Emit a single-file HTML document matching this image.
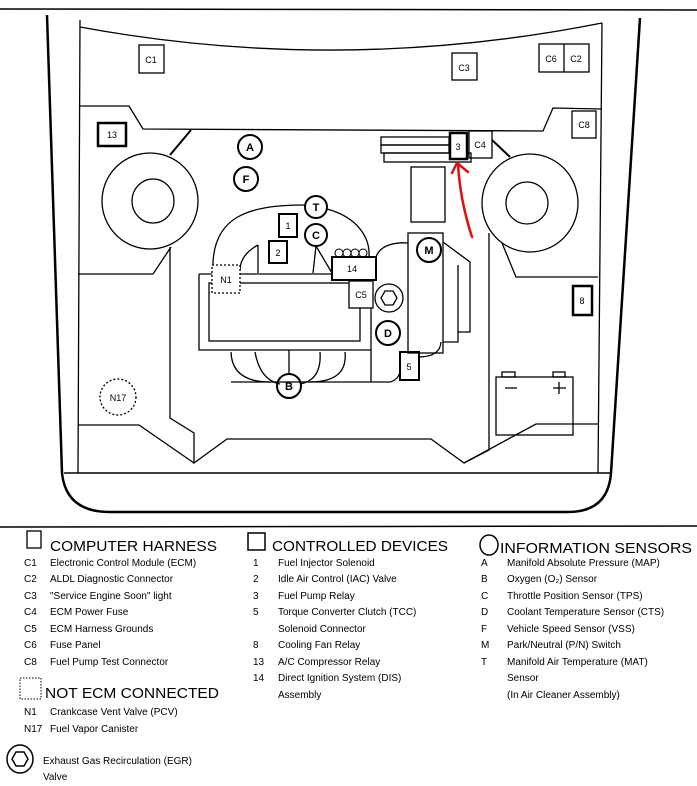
<!DOCTYPE html>
<html><head><meta charset="utf-8"><style>
html,body{margin:0;padding:0;background:#fff;}
svg{display:block;}
text{font-family:"Liberation Sans",sans-serif;fill:#000;}
.l{font-size:10px;}
.h{font-size:15px;}
.s{font-size:9px;}
.c{font-size:11px;font-weight:bold;text-anchor:middle;}
</style></head><body>
<svg width="697" height="786" viewBox="0 0 697 786" xmlns="http://www.w3.org/2000/svg">
<g fill="none" stroke="#000" stroke-width="1.3">
<line x1="0" y1="9" x2="697" y2="10" stroke-width="1.5"/>
<!-- outer body -->
<path d="M47,15 L62,473 Q66,512 110,512 L568,512 Q608,512 611,473 L640,18" stroke-width="2.5"/>
<line x1="64" y1="473" x2="611" y2="473" stroke-width="1.5"/>
<!-- inner panel -->
<path d="M80,20 L78,473 M602,23 L598,473"/>
<path d="M80,27 Q340,75 602,23"/>
<path d="M80,106 L129,106 L143,129 L543,131 L553,108 L602,109"/>
<!-- wheels -->
<ellipse cx="150" cy="201" rx="48" ry="48"/>
<ellipse cx="153" cy="201" rx="21" ry="22"/>
<ellipse cx="530" cy="203" rx="48" ry="49"/>
<ellipse cx="527" cy="203" rx="21" ry="21"/>
<line x1="191" y1="130" x2="170" y2="155" stroke-width="2"/>
<line x1="492" y1="140" x2="510" y2="157" stroke-width="2"/>
<!-- lower structure -->
<path d="M171,247 L153,274 L78,274"/>
<path d="M170,247 L170,418 L194,433 L194,463 L227,439 L431,439 L464,463 L489,450 L489,233"/>
<path d="M78,425 L139,425 L194,463"/>
<path d="M502,243 L516,277 L598,277"/>
<path d="M464,463 L536,424 L598,424"/>
<!-- top boxes -->
<rect x="139" y="45" width="25" height="28"/>
<rect x="452" y="53" width="25" height="27"/>
<rect x="539" y="44" width="50" height="28"/>
<line x1="564" y1="44" x2="564" y2="72"/>
<rect x="572" y="111" width="24" height="27"/>
<rect x="98" y="123" width="28" height="23" stroke-width="2.5"/>
<!-- component stack -->
<rect x="381" y="137" width="68" height="8"/>
<rect x="381" y="145" width="68" height="8"/>
<rect x="384" y="153" width="87" height="9"/>
<rect x="469" y="131" width="23" height="27"/>
<rect x="450" y="133" width="17" height="26" stroke-width="2.5" fill="#fff"/>
<rect x="411" y="167" width="34" height="55"/>
<!-- circles sensors -->
<g stroke-width="2" fill="#fff">
<circle cx="250" cy="147" r="12"/>
<circle cx="246" cy="179" r="12"/>
<circle cx="316" cy="207" r="11"/>
<circle cx="316" cy="235" r="11"/>
<circle cx="429" cy="250" r="12"/>
<circle cx="388" cy="333" r="12"/>
<circle cx="289" cy="386" r="12"/>
</g>
<!-- dome -->
<path d="M213,273 C210,215 250,205 305,205 M327,209 C360,218 370,240 369,256"/>
<path d="M258,245 Q240,255 240,270 M258,245 L258,273"/>
<rect x="279" y="214" width="18" height="23" stroke-width="2"/>
<rect x="269" y="241" width="18" height="22" stroke-width="2"/>
<path d="M316,246 L313,273 M316,246 L332,273"/>
<!-- ECM rect -->
<path d="M199,274 L199,350 L371,350 L371,308 M199,274 L333,274"/>
<rect x="209" y="283" width="151" height="58"/>
<rect x="212" y="265" width="28" height="28" stroke-dasharray="2,2" fill="#fff"/>
<g stroke-width="1">
<circle cx="339" cy="253" r="4"/><circle cx="347" cy="253" r="4"/><circle cx="355" cy="253" r="4"/><circle cx="363" cy="253" r="4"/>
</g>
<rect x="332" y="257" width="44" height="23" stroke-width="2" fill="#fff"/>
<rect x="349" y="281" width="24" height="27" fill="#fff"/>
<circle cx="389" cy="298" r="14"/>
<polygon points="397,298 393,305 385,305 381,298 385,291 393,291"/>
<!-- M box -->
<rect x="408" y="233" width="35" height="120"/>
<path d="M376,257 C380,245 395,242 408,243"/>
<path d="M443,242 L470,262 L470,332 L458,332 L458,265 M458,332 L458,342 L443,342"/>
<path d="M441,342 Q440,357 418,357"/>
<rect x="400" y="352" width="19" height="28" stroke-width="2"/>
<path d="M371,350 L371,382 L231,382 M371,382 L390,382 Q398,380 400,372"/>
<path d="M231,352 Q232,382 270,382 M255,352 Q260,380 280,384 M289,350 L289,374 M320,352 Q322,380 300,384 M345,352 Q348,382 310,382"/>
<rect x="573" y="286" width="19" height="29" stroke-width="2.5"/>
<circle cx="118" cy="397" r="18" stroke-dasharray="2,2"/>
<!-- battery -->
<rect x="496" y="377" width="77" height="58"/>
<rect x="502" y="372" width="13" height="5"/>
<rect x="553" y="372" width="12" height="5"/>
<line x1="505" y1="388" x2="517" y2="388"/>
<path d="M553,388 L566,388 M559,382 L559,394"/>
<line x1="0" y1="527" x2="697" y2="526" stroke-width="1.5"/>
<!-- legend icons -->
<rect x="27" y="531" width="14" height="17"/>
<rect x="248" y="533" width="17" height="17" stroke-width="1.5"/>
<ellipse cx="489" cy="545" rx="9" ry="10" stroke-width="1.5"/>
<rect x="20" y="678" width="21" height="21" stroke-dasharray="1.5,1.5" stroke-width="1"/>
<ellipse cx="20" cy="759" rx="13" ry="14" stroke-width="1.5"/>
<polygon points="28,759 24,766 16,766 12,759 16,752 24,752" stroke-width="1.5"/>
</g>
<!-- red arrow -->
<g fill="none" stroke="#e01010" stroke-width="2.5" stroke-linecap="round">
<path d="M472,237 Q460,200 458,164"/>
<path d="M452,173 L457,163 L468,172"/>
</g>
<!-- diagram labels -->
<g class="s" text-anchor="middle">
<text x="151" y="63">C1</text><text x="464" y="71">C3</text>
<text x="551" y="62">C6</text><text x="576" y="62">C2</text>
<text x="584" y="128">C8</text><text x="112" y="138">13</text>
<text x="458" y="150">3</text><text x="480" y="148">C4</text>
<text x="288" y="229">1</text><text x="278" y="256">2</text>
<text x="352" y="272">14</text><text x="226" y="283">N1</text>
<text x="361" y="298">C5</text><text x="409" y="370">5</text>
<text x="582" y="304">8</text><text x="118" y="401">N17</text>
</g>
<g class="c">
<text x="250" y="151">A</text><text x="246" y="183">F</text>
<text x="316" y="211">T</text><text x="316" y="239">C</text>
<text x="429" y="254">M</text><text x="388" y="337">D</text>
<text x="289" y="390">B</text>
</g>
<!-- legend -->
<text class="h" x="50" y="551" textLength="167" lengthAdjust="spacingAndGlyphs">COMPUTER HARNESS</text>
<text class="h" x="272" y="551" textLength="176" lengthAdjust="spacingAndGlyphs">CONTROLLED DEVICES</text>
<text class="h" x="500" y="553" textLength="192" lengthAdjust="spacingAndGlyphs">INFORMATION SENSORS</text>
<text class="h" x="45" y="698" textLength="174" lengthAdjust="spacingAndGlyphs">NOT ECM CONNECTED</text>
<g class="l">
<text x="24" y="566">C1</text><text x="50" y="566">Electronic Control Module (ECM)</text>
<text x="24" y="582">C2</text><text x="50" y="582">ALDL Diagnostic Connector</text>
<text x="24" y="599">C3</text><text x="50" y="599">"Service Engine Soon" light</text>
<text x="24" y="615">C4</text><text x="50" y="615">ECM Power Fuse</text>
<text x="24" y="632">C5</text><text x="50" y="632">ECM Harness Grounds</text>
<text x="24" y="648">C6</text><text x="50" y="648">Fuse Panel</text>
<text x="24" y="665">C8</text><text x="50" y="665">Fuel Pump Test Connector</text>
<text x="24" y="715">N1</text><text x="50" y="715">Crankcase Vent Valve (PCV)</text>
<text x="24" y="732">N17</text><text x="50" y="732">Fuel Vapor Canister</text>
<text x="43" y="764">Exhaust Gas Recirculation (EGR)</text>
<text x="43" y="780">Valve</text>
<text x="253" y="566">1</text><text x="278" y="566">Fuel Injector Solenoid</text>
<text x="253" y="582">2</text><text x="278" y="582">Idle Air Control (IAC) Valve</text>
<text x="253" y="599">3</text><text x="278" y="599">Fuel Pump Relay</text>
<text x="253" y="615">5</text><text x="278" y="615">Torque Converter Clutch (TCC)</text>
<text x="278" y="632">Solenoid Connector</text>
<text x="253" y="648">8</text><text x="278" y="648">Cooling Fan Relay</text>
<text x="253" y="665">13</text><text x="278" y="665">A/C Compressor Relay</text>
<text x="253" y="681">14</text><text x="278" y="681">Direct Ignition System (DIS)</text>
<text x="278" y="698">Assembly</text>
<text x="481" y="566">A</text><text x="507" y="566">Manifold Absolute Pressure (MAP)</text>
<text x="481" y="582">B</text><text x="507" y="582">Oxygen (O₂) Sensor</text>
<text x="481" y="599">C</text><text x="507" y="599">Throttle Position Sensor (TPS)</text>
<text x="481" y="615">D</text><text x="507" y="615">Coolant Temperature Sensor (CTS)</text>
<text x="481" y="632">F</text><text x="507" y="632">Vehicle Speed Sensor (VSS)</text>
<text x="481" y="648">M</text><text x="507" y="648">Park/Neutral (P/N) Switch</text>
<text x="481" y="665">T</text><text x="507" y="665">Manifold Air Temperature (MAT)</text>
<text x="507" y="681">Sensor</text>
<text x="507" y="698">(In Air Cleaner Assembly)</text>
</g>
</svg>
</body></html>
